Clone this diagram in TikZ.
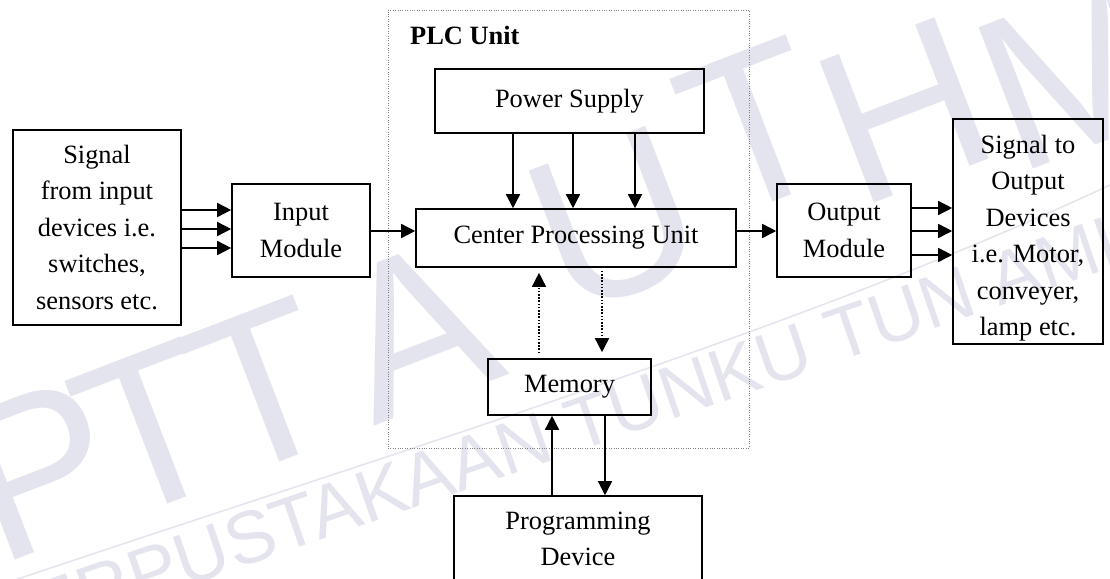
\documentclass[tikz,border=0pt]{standalone}
\usepackage{fontspec}
\setmainfont{Liberation Serif}
\newfontfamily\wmfont{Liberation Sans}
\usetikzlibrary{arrows.meta}
\definecolor{wmark}{RGB}{228,228,238}
\definecolor{framegray}{RGB}{130,130,130}

\begin{document}
\begin{tikzpicture}[x=1pt,y=-1pt,
  box/.style={draw, line width=1.6pt, align=center, inner sep=0pt,
              font=\fontsize{26.4}{36.5}\selectfont},
  boxtext/.style={align=center, inner sep=0pt,
              font=\fontsize{26.4}{36.5}\selectfont},
  flow/.style={line width=1.5pt, -{Triangle[length=14pt,width=14pt]}},
  dotflow/.style={flow, dash pattern=on 1.6pt off 1.6pt},
  wmletter/.style={text=wmark, inner sep=0pt, rotate=21,
                   font=\wmfont\fontsize{220}{220}\selectfont},
]
\useasboundingbox (0,0) rectangle (1110,578);
\clip (0,0) rectangle (1110,578);

% library watermark in the background
\node[wmletter] (wm1) at (40,470) {P};
\node[wmletter] (wm2) at (150,430) {T};
\node[wmletter] (wm3) at (262,388) {T};
\node[wmletter] (wm4) at (415,330) {A};
\node[wmletter] (wm5) at (615,220) {U};
\node[wmletter] (wm6) at (755,128) {T};
\node[wmletter] (wm7) at (905,110) {H};
\node[wmletter] (wm8) at (1075,72) {M};
\draw[wmark, line width=1.5pt] (0,585) .. controls (400,450) and (800,330) .. (1110,185);
\node[text=wmark, inner sep=0pt, rotate=19, anchor=base west,
      font=\wmfont\fontsize{74}{74}\selectfont] (wmarc) at (-6,653)
      {PERPUSTAKAAN TUNKU TUN AMINAH};

% PLC unit frame
\node[draw=framegray, line width=0.8pt, dash pattern=on 0.8pt off 1.6pt,
      minimum width=361pt, minimum height=438pt, inner sep=0pt] (plc) at (568.5,229) {};
\node[anchor=base west, inner sep=0pt,
      font=\bfseries\fontsize{26.4}{31}\selectfont] (plclabel) at (410,45) {PLC Unit};

% blocks
\node[box, minimum width=168pt, minimum height=195pt] (src) at (97,227.5)
     {Signal\\from input\\devices i.e.\\switches,\\sensors etc.};
\node[box, minimum width=138pt, minimum height=93pt] (inmod) at (301,230.5)
     {Input\\Module};
\node[box, minimum width=269pt, minimum height=64pt] (pwr) at (569.5,101)
     {Power Supply};
\node[box, minimum width=320pt, minimum height=58pt] (cpu) at (576,238)
     {Center Processing Unit};
\node[box, minimum width=134pt, minimum height=93pt] (outmod) at (844,230.5)
     {Output\\Module};
\node[box, minimum width=150pt, minimum height=225pt] (dst) at (1028,231.5) {};
\node[boxtext] (dsttext) at (1028,238)
     {Signal to\\Output\\Devices\\i.e. Motor,\\conveyer,\\lamp etc.};
\node[box, minimum width=163pt, minimum height=56pt] (mem) at (569.5,387)
     {Memory};
\node[box, minimum width=248pt, minimum height=86pt] (prog) at (578,539)
     {Programming\\Device};

% input signals
\foreach \yy in {210,229,248}
  \draw[flow] (src.east |- 0,\yy) -- (inmod.west |- 0,\yy);
\draw[flow] (inmod.east |- 0,231) -- (cpu.west |- 0,231);

% power feeds
\foreach \xx in {513,573,635}
  \draw[flow] (pwr.south -| \xx,0) -- (cpu.north -| \xx,0);

% outputs
\draw[flow] (cpu.east |- 0,231) -- (outmod.west |- 0,231);
\foreach \yy in {208,231,255}
  \draw[flow] (outmod.east |- 0,\yy) -- (dst.west |- 0,\yy);

% memory exchange
\draw[dotflow, shorten <=5pt, shorten >=5pt] (mem.north -| 539,0) -- (cpu.south -| 539,0);
\draw[dotflow, shorten <=3pt, shorten >=6pt] (cpu.south -| 602,0) -- (mem.north -| 602,0);
\draw[flow] (prog.north -| 552,0) -- (mem.south -| 552,0);
\draw[flow] (mem.south -| 605,0) -- (prog.north -| 605,0);
\end{tikzpicture}
\end{document}
